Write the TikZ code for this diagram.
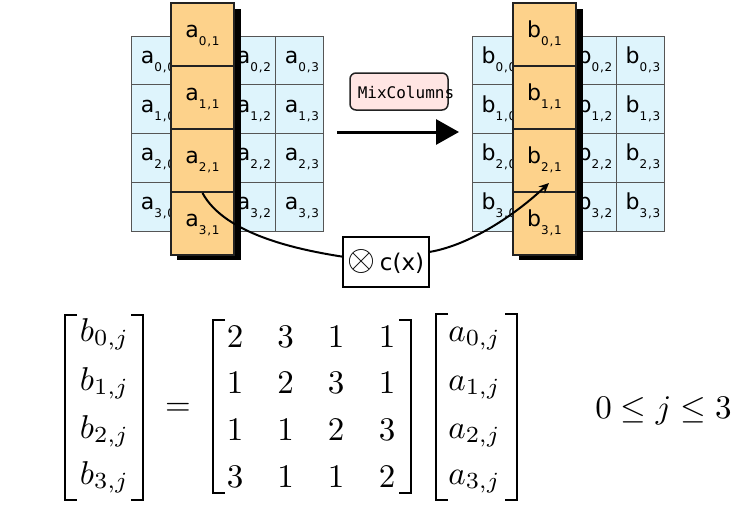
\RequirePackage{fix-cm}
\documentclass[tikz,border=0pt]{standalone}
\usepackage{fontspec}
\newfontfamily\dvs{DejaVu Sans}
\newfontfamily\dvsm{DejaVu Sans Mono}
\usetikzlibrary{arrows.meta,calc}
\definecolor{cellblue}{HTML}{DEF4FC}
\definecolor{cellorange}{HTML}{FDD28B}
\definecolor{boxpink}{HTML}{FFE5E3}
\definecolor{gridline}{HTML}{555555}
\definecolor{edgedark}{HTML}{222222}
\newcommand{\cel}[3]{{\fontsize{22}{22}\selectfont #1}\raisebox{-8pt}{\fontsize{12}{12}\selectfont #2\kern0.8pt,\kern0.8pt#3}}
\newcommand{\eqLB}[3]{\draw[brk] (#1+12,#2) -| (#1,#3) -- (#1+12,#3);}
\newcommand{\eqRB}[3]{\draw[brk] (#1-12,#2) -| (#1,#3) -- (#1-12,#3);}
\tikzset{
  bluecell/.style={draw=gridline, line width=1pt, fill=cellblue, minimum width=48pt, minimum height=48.75pt, inner sep=0pt, text height=14pt, text depth=8pt, font=\dvs},
  orangecell/.style={draw=edgedark, line width=2pt, fill=cellorange, minimum width=63pt, minimum height=63pt, inner sep=0pt, text height=14pt, text depth=8pt, font=\dvs},
  mixbox/.style={draw=edgedark, line width=1.5pt, fill=boxpink, rounded corners=6pt, minimum width=98pt, minimum height=37pt, inner sep=0pt},
  mixtext/.style={font=\dvsm\fontsize{16}{16}\selectfont, inner sep=0pt},
  cxbox/.style={draw=black, line width=1.5pt, fill=white, minimum width=86pt, minimum height=50pt, inner sep=0pt, font=\dvs\fontsize{23}{23}\selectfont},
  eq/.style={font=\fontsize{10}{12}\selectfont, inner sep=0pt, anchor=base, scale=3.3, transform shape},
  brk/.style={line width=2.6pt, line cap=butt},
  curve/.style={line width=2pt},
}
\begin{document}
\begin{tikzpicture}[x=1pt,y=-1pt]
\useasboundingbox (0,0) rectangle (753,514);
% ---------- left state ----------
\foreach \rr in {0,...,3}{
  \foreach \cc in {0,2,3}{
    \node[bluecell] (a\rr\cc) at ({155+48*\cc},{60.375+48.75*\rr}) {\hspace*{6pt}\cel{a}{\rr}{\cc}};
  }
}
\fill[black] (177,9) rectangle (240.5,260);
\foreach \rr in {0,...,3}{
  \node[orangecell] (a\rr1) at (202.5,{34.5+63*\rr}) {\cel{a}{\rr}{1}};
}
% ---------- right state ----------
\foreach \rr in {0,...,3}{
  \foreach \cc in {0,2,3}{
    \node[bluecell] (b\rr\cc) at ({496+48*\cc},{60.375+48.75*\rr}) {\hspace*{6pt}\cel{b}{\rr}{\cc}};
  }
}
\fill[black] (519,9) rectangle (582.5,260);
\foreach \rr in {0,...,3}{
  \node[orangecell] (b\rr1) at (544.5,{34.5+63*\rr}) {\cel{b}{\rr}{1}};
}
% ---------- MixColumns arrow ----------
\node[mixbox] (mix) at (399,91.5) {};
\node[mixtext] (mixlabel) at (406,92) {MixColumns};
\coordinate (arrS) at (337,132);
\coordinate (arrE) at (459,132);
\draw[line width=3pt, -{Triangle[length=23pt,width=25pt]}] (arrS) -- (arrE);
% ---------- c(x) ----------
\node[cxbox] (cx) at (386,262) {{\fontsize{36}{36}\selectfont$\otimes$}\kern4pt c(x)};
\coordinate (tip) at ($(b21.south)+(4.5,-10)$);
\draw[curve] (a21.south) .. controls (225,235) and (300,250) .. (cx.173);
\draw[curve, -{Stealth[length=10pt,width=9pt]}] (cx.13) .. controls (470,245) and (515,215) .. (tip);
% ---------- equation ----------
\foreach \rr/\yy in {0/341,1/390,2/438,3/484}{
  \node[eq] (bv\rr) at (104.5,\yy) {$b_{\rr,j}$};
  \node[eq] (av\rr) at (474.5,\yy) {$a_{\rr,j}$};
}
\foreach \rr/\yy/\ea/\eb/\ec/\ed in {0/347/2/3/1/1,1/393.5/1/2/3/1,2/440/1/1/2/3,3/487/3/1/1/2}{
  \node[eq] (m\rr0) at (235,\yy) {$\ea$};
  \node[eq] (m\rr1) at (285.5,\yy) {$\eb$};
  \node[eq] (m\rr2) at (336,\yy) {$\ec$};
  \node[eq] (m\rr3) at (387,\yy) {$\ed$};
}
\eqLB{65}{315}{500}
\eqRB{143}{315}{500}
\eqLB{213}{320}{493}
\eqRB{411}{320}{493}
\eqLB{436}{314}{500}
\eqRB{517}{314}{500}
\node[eq] (eqsign) at (178,415) {$=$};
\node[eq] (range) at (663.5,418.6) {$0\le j\le 3$};
\end{tikzpicture}
\end{document}
